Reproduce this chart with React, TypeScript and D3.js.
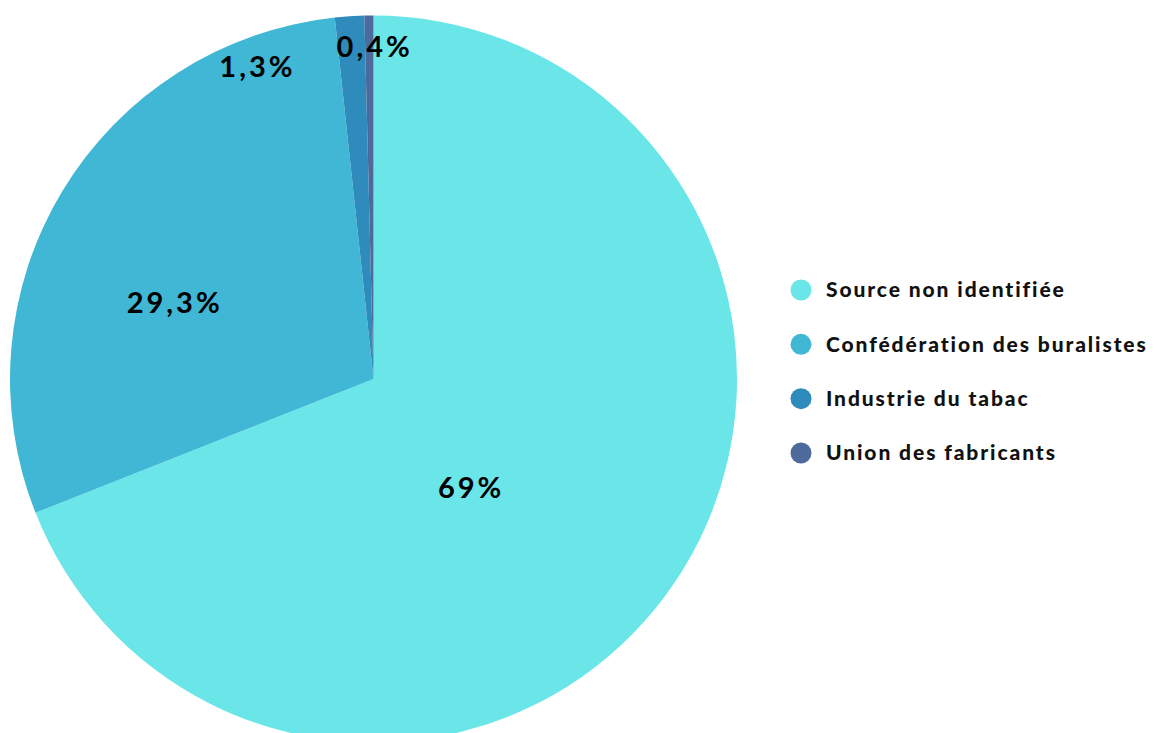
import React from "react";
import * as d3 from "d3";

const categories = ["Source non identifiée", "Confédération des buralistes", "Industrie du tabac", "Union des fabricants"];
const values = [69, 29.3, 1.3, 0.4];
const labels = ["69%", "29,3%", "1,3%", "0,4%"];
const colors = ["#6ae5e8", "#41b7d6", "#2e8bbb", "#4e6a9c"];

// label placement (degrees clockwise from 12 o'clock, distance from centre)
const labelAngles = [138, 291, 339.6, 0.2];
const labelDist = [146, 213, 333, 332];

export default function App() {
  const W = 1154, H = 733;
  const cx = 373.5, cy = 379, r = 363.5;
  const pie = d3.pie<number>().sort(null).value((d) => d)(values);
  const arc = d3.arc<d3.PieArcDatum<number>>().innerRadius(0).outerRadius(r);
  const legendY = d3.scalePoint<string>().domain(categories).range([290, 453]);
  return (
    <svg width={W} height={H} style={{ position: "absolute", left: 0, top: 0, background: "#fff" }}>
      <g transform={`translate(${cx},${cy})`}>
        {pie.map((p, i) => (
          <path key={i} d={arc(p) || ""} fill={colors[i]} />
        ))}
        {labels.map((t, i) => {
          const a = (labelAngles[i] * Math.PI) / 180;
          const x = labelDist[i] * Math.sin(a);
          const y = -labelDist[i] * Math.cos(a);
          return (
            <text key={i} x={x} y={y} dy="0.36em" textAnchor="middle"
              style={{ fontFamily: "Lato, sans-serif", fontWeight: 700, fontSize: 29, letterSpacing: 3, fill: "#000" }}>
              {t}
            </text>
          );
        })}
      </g>
      {categories.map((c, i) => (
        <g key={c} transform={`translate(801,${legendY(c)})`}>
          <circle r={10.5} fill={colors[i]} />
          <text x={25} dy="0.35em"
            style={{ fontFamily: "Lato, sans-serif", fontWeight: 900, fontSize: 21, letterSpacing: 1.9, fill: "#111" }}>
            {c}
          </text>
        </g>
      ))}
    </svg>
  );
}
